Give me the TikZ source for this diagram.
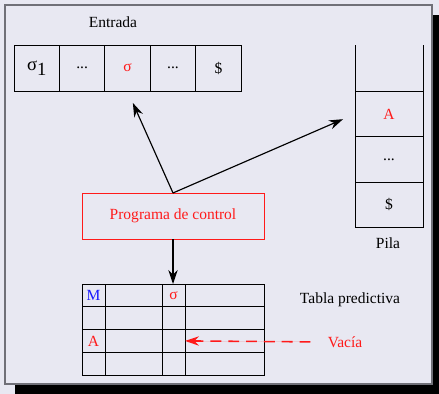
\documentclass[tikz,border=0pt]{standalone}
\usepackage{fontspec}
\setmainfont{Liberation Serif}
\usetikzlibrary{arrows.meta,positioning}
\definecolor{apfondo}{HTML}{E8E8F2}
\definecolor{apmarco}{HTML}{707078}
\definecolor{aprojo}{HTML}{FF1A1A}
\definecolor{apazul}{HTML}{1A1AFF}
\tikzstyle{apcelda}=[draw=black,line width=0.6pt,minimum width=29.3pt,minimum height=29.7pt,inner sep=0pt,outer sep=0pt]
\tikzstyle{appila}=[apcelda,minimum width=43.9pt,minimum height=29.3pt]
\tikzstyle{apcontrol}=[draw=aprojo,text=aprojo,line width=0.6pt,minimum width=117.4pt,minimum height=29.7pt,outer sep=0pt]
\tikzstyle{aptabla}=[draw=black,line width=0.6pt,inner sep=0pt,outer sep=0pt,minimum height=14.7pt]
\tikzstyle{apflecha}=[-{Stealth[length=9pt,width=6pt]},line width=0.75pt,draw=black]
\tikzstyle{aprotulo}=[inner sep=2pt]

\begin{document}
\begin{tikzpicture}[x=0.645pt,y=-0.645pt]
    % ---- fondo y marco ----
    \useasboundingbox (0,0) rectangle (439,394);
    \fill[apfondo] (0,0) rectangle (439,394);
    \fill[black] (15,15) rectangle (439,394);
    \filldraw[fill=apfondo,draw=apmarco,line width=0.8pt] (5,5) rectangle (432,384);

    % ---- entrada ----
    \node[aprotulo] (entrada) at (113,22) {Entrada};
    \node[apcelda] (e1) at (36.7,68) {{\large σ}\raisebox{-0.7ex}{\large 1}};
    \node[apcelda,right=0pt of e1] (e2) {...};
    \node[apcelda,right=0pt of e2,text=aprojo] (e3) {σ};
    \node[apcelda,right=0pt of e3] (e4) {...};
    \node[apcelda,right=0pt of e4] (e5) {\$};

    % ---- pila ----
    \node[appila,text=aprojo] (p1) at (389,114) {A};
    \node[appila,below=0pt of p1] (p2) {...};
    \node[appila,below=0pt of p2] (p3) {\$};
    \draw[line width=0.6pt] (p1.north west) -- ++(0,-46);
    \draw[line width=0.6pt] (p1.north east) -- ++(0,-46);
    \node[aprotulo] (pila) at (388,243) {Pila};

    % ---- programa de control ----
    \node[apcontrol] (control) at (173,216) {Programa de control};

    % ---- tabla predictiva ----
    \foreach \f/\y in {1/295.4,2/318.1,3/340.9,4/363.6}
      \foreach \c/\x/\w in {1/93.5/23,2/133.5/57,3/173.5/23,4/224.5/79}
        \node[aptabla,minimum width=\w*0.645pt] (t\f\c) at (\x,\y) {};
    \node[text=apazul] (tm) at (t11) {M};
    \node[text=aprojo] (ts) at (t13) {σ};
    \node[text=aprojo] (ta) at (t31) {A};
    \node[aprotulo] (tabla) at (350,300) {Tabla predictiva};
    \node[aprotulo,text=aprojo] (vacia) at (345,342) {Vacía};

    % ---- flechas ----
    \draw[apflecha,shorten >=8.4pt] (control.north) -- (e3.south);
    \draw[apflecha,shorten >=8.4pt] (control.north) -- (p1.west);
    \draw[apflecha] (control.south) -- (control.south |- t13.north);
    \draw[apflecha,draw=aprojo,fill=aprojo,line width=1pt,dash pattern=on 7pt off 4.5pt,shorten <=9pt] (vacia.west) -- (t33.east);
\end{tikzpicture}
\end{document}
